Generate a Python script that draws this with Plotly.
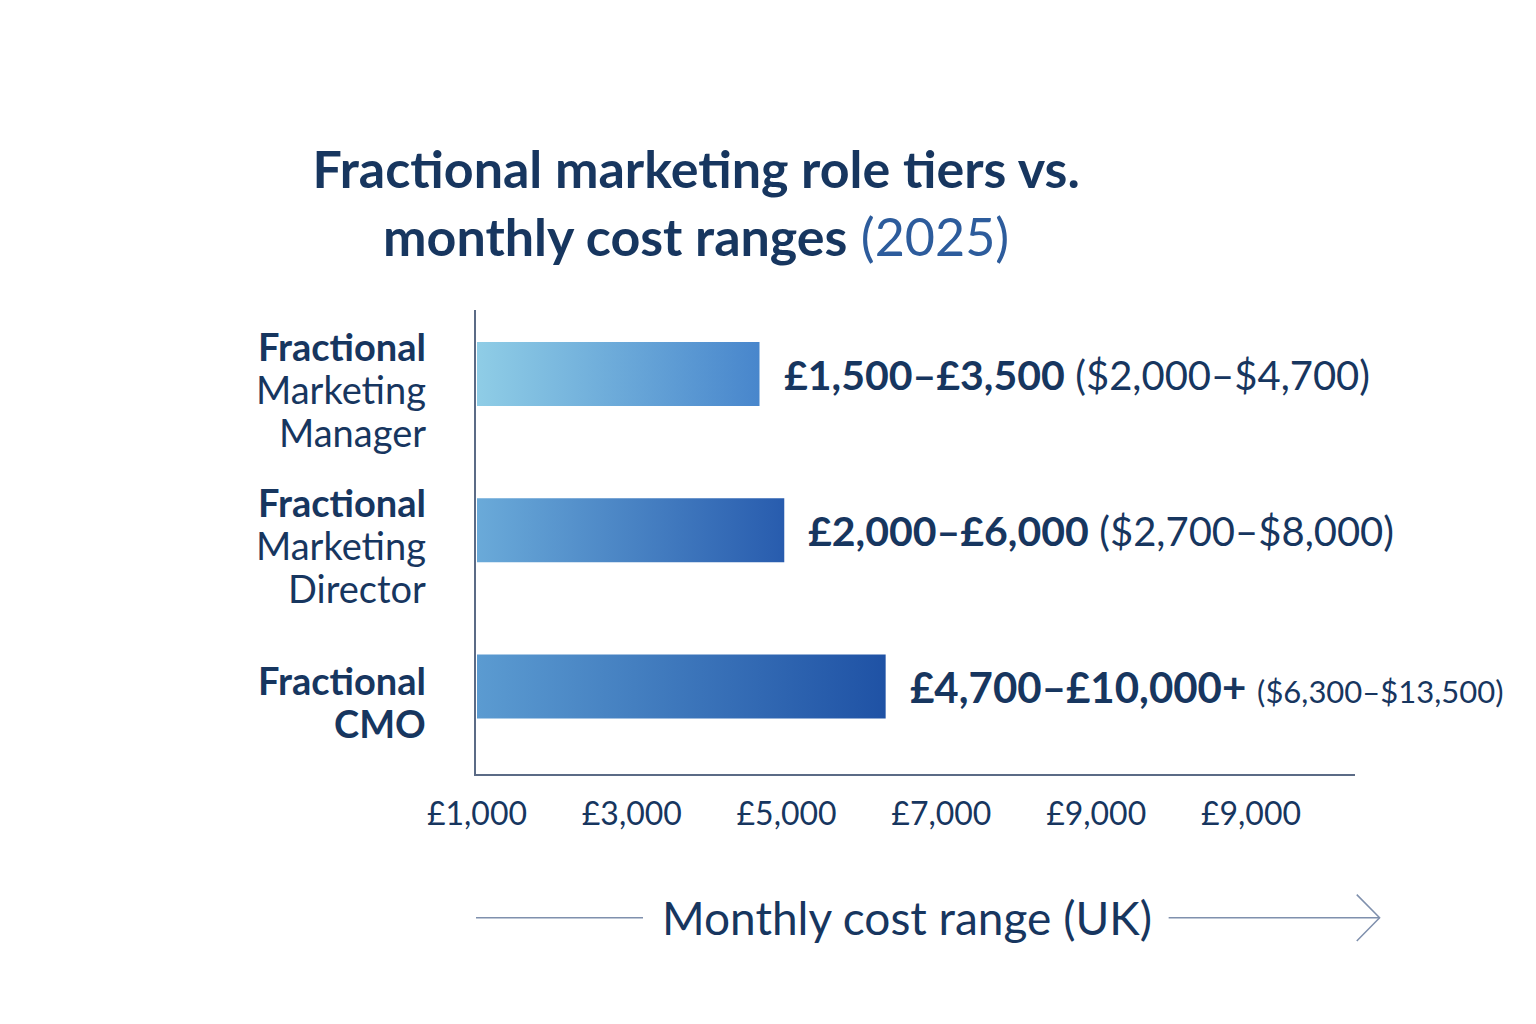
import plotly.graph_objects as go

# role tiers (top to bottom), one entry per label line
role_lines = [["Fractional", "Marketing", "Manager"],
              ["Fractional", "Marketing", "Director"],
              ["Fractional", "CMO"]]
role_bold = [[True, False, False],
             [True, False, False],
             [True, True]]
bar_start = [1000, 1000, 1000]
bar_end = [4650, 4970, 6280]
gbp_labels = ["£1,500–£3,500", "£2,000–£6,000", "£4,700–£10,000+"]
usd_labels = ["($2,000–$4,700)", "($2,700–$8,000)", "($6,300–$13,500)"]
gbp_sizes = [41, 41, 42]
usd_sizes = [40, 40, 31]

tick_vals = [1000, 3000, 5000, 7000, 9000, 11000]
tick_text = ["£1,000", "£3,000", "£5,000", "£7,000", "£9,000", "£9,000"]

bar_colors = [("#8fcde6", "#4886cc"),
              ("#6aaad9", "#285cae"),
              ("#5b9bd1", "#1f52a5")]

NAVY = "#17365f"
FONT = "Lato"
half = 0.205
line_gap = 43

fig = go.Figure()
for i in range(len(role_lines)):
    x0, x1 = bar_start[i], bar_end[i]
    fig.add_trace(go.Scatter(
        x=[x0, x1, x1, x0, x0],
        y=[i - half, i - half, i + half, i + half, i - half],
        mode="none", fill="toself",
        fillgradient=dict(type="horizontal",
                          colorscale=[[0, bar_colors[i][0]], [1, bar_colors[i][1]]]),
        hoverinfo="skip", showlegend=False))
    # value label to the right of the bar
    fig.add_annotation(
        x=x1, y=i, xref="x", yref="y", xanchor="left", yanchor="middle",
        xshift=22, showarrow=False,
        text=f"<b>{gbp_labels[i]}</b> <span style='font-size:{usd_sizes[i]}px'>{usd_labels[i]}</span>",
        font=dict(family=FONT, size=gbp_sizes[i], color=NAVY))
    # role label on the left, line by line
    n = len(role_lines[i])
    for k, line in enumerate(role_lines[i]):
        offset = 15 + line_gap * (k - (n - 1) / 2)
        txt = f"<b>{line}</b>" if role_bold[i][k] else line
        fig.add_annotation(
            x=-0.055, y=i, xref="paper", yref="y", xanchor="right", yanchor="middle",
            yshift=-offset, showarrow=False,
            text=txt, font=dict(family=FONT, size=38, color=NAVY))

# axis title with arrow lines
fig.add_annotation(x=0.49, y=-0.31, xref="paper", yref="paper", showarrow=False,
                   yanchor="middle", text="Monthly cost range (UK)",
                   font=dict(family=FONT, size=46, color=NAVY))
line_col = "#7f90ad"
fig.add_shape(type="line", xref="paper", yref="paper", x0=0.0, x1=0.19, y0=-0.31, y1=-0.31,
              line=dict(color=line_col, width=1.5))
fig.add_shape(type="line", xref="paper", yref="paper", x0=0.788, x1=1.028, y0=-0.31, y1=-0.31,
              line=dict(color=line_col, width=1.5))
fig.add_shape(type="path", xref="paper", yref="paper",
              path="M 1.002 -0.26 L 1.028 -0.31 L 1.002 -0.36",
              line=dict(color=line_col, width=1.5))

fig.update_layout(
    width=1536, height=1024,
    paper_bgcolor="white", plot_bgcolor="white",
    margin=dict(l=468, r=189, t=302, b=258),
    title=dict(
        text="<b>Fractional marketing role tiers vs.</b><br><b>monthly cost ranges</b> "
             "<span style='color:#2d5c9c'>(2025)</span>",
        x=0.448, xanchor="center", xref="container",
        y=0.824, yanchor="middle", yref="container",
        font=dict(family=FONT, size=52, color=NAVY)),
    xaxis=dict(range=[987, 12344], tickvals=tick_vals, ticktext=tick_text,
               showline=True, linecolor="#5b6b86", linewidth=1.5,
               showgrid=False, zeroline=False, ticks="",
               ticklabelstandoff=11,
               tickfont=dict(family=FONT, size=32, color=NAVY)),
    yaxis=dict(range=[2.56, -0.41], showline=True, linecolor="#5b6b86", linewidth=1.5,
               showgrid=False, zeroline=False, showticklabels=False, ticks=""),
)

fig.write_html("out.html")
